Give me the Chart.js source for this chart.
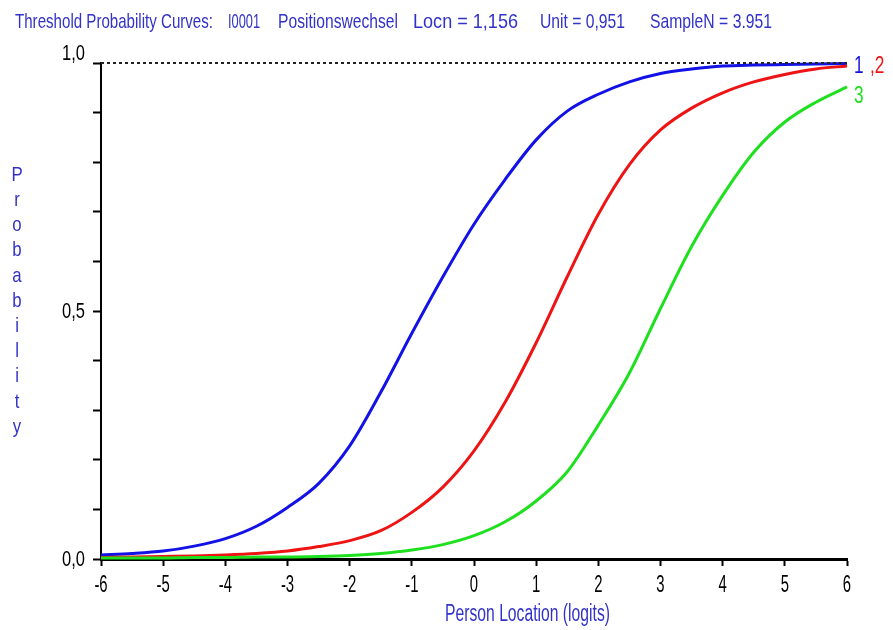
<!DOCTYPE html>
<html>
<head>
<meta charset="utf-8">
<script src="https://cdn.jsdelivr.net/npm/chart.js@4"></script>
<style>
    body { margin: 0; background: #fff; }
    #wrap { width: 893px; height: 630px; }
</style>
</head>
<body>
<div id="wrap"><canvas id="thresholdChart" width="893" height="630"></canvas></div>
<script>
// Person locations (logits) where the curves were read
const locations = [-6, -5.5, -5, -4.5, -4, -3.5, -3, -2.5, -2, -1.5, -1, -0.5, 0, 0.5, 1, 1.5, 2, 2.5, 3, 3.5, 4, 4.5, 5, 5.5, 6];

// Threshold probability curves
const curve1 = [0.008, 0.011, 0.016, 0.026, 0.041, 0.066, 0.104, 0.152, 0.228, 0.336, 0.455, 0.569, 0.675, 0.765, 0.845, 0.903, 0.937, 0.962, 0.979, 0.988, 0.994, 0.996, 0.997, 0.998, 0.999];
const curve2 = [0.003, 0.004, 0.005, 0.006, 0.008, 0.011, 0.016, 0.025, 0.037, 0.057, 0.094, 0.145, 0.218, 0.316, 0.436, 0.569, 0.695, 0.795, 0.865, 0.909, 0.940, 0.962, 0.977, 0.988, 0.994];
const curve3 = [0.002, 0.002, 0.002, 0.003, 0.003, 0.004, 0.004, 0.005, 0.007, 0.011, 0.018, 0.029, 0.047, 0.075, 0.117, 0.176, 0.270, 0.375, 0.505, 0.630, 0.733, 0.820, 0.881, 0.921, 0.952];

// Axis ranges and tick labels
const xRange = [-6, 6];
const yRange = [0, 1];
const yTickLabels = { '0': '0,0', '0.5': '0,5', '1': '1,0' };

// Header text pieces
const titleParts = ['Threshold Probability Curves:', 'I0001', 'Positionswechsel', 'Locn = 1,156', 'Unit = 0,951', 'SampleN = 3.951'];
const xTitle = 'Person Location (logits)';
const yTitle = 'Probability';
const curveNames = ['1', ',2', '3'];

const FONT = "'Liberation Sans', Arial, sans-serif";
const BLUE_TEXT = '#3232c8';
const colors = ['#1212e6', '#ee1414', '#1ee01e'];

function toPoints(values) {
    return values.map((v, i) => ({ x: locations[i], y: v }));
}

// draws text squeezed or stretched into a given width
function fitText(ctx, text, x, y, width) {
    const w = ctx.measureText(text).width;
    ctx.save();
    ctx.translate(x, y);
    ctx.scale(width / w, 1);
    ctx.fillText(text, 0, 0);
    ctx.restore();
}

// draws text with a fixed horizontal squeeze (narrow look)
function narrowText(ctx, text, x, y, sx) {
    ctx.save();
    ctx.translate(x, y);
    ctx.scale(sx, 1);
    ctx.fillText(text, 0, 0);
    ctx.restore();
}

const textPlugin = {
    id: 'rummTexts',
    afterDraw(chart) {
        const ctx = chart.ctx;
        const xs = chart.scales.x;
        const ys = chart.scales.y;
        ctx.save();

        // header line
        ctx.fillStyle = BLUE_TEXT;
        ctx.font = '21px ' + FONT;
        ctx.textBaseline = 'alphabetic';
        const spans = [[15, 213], [228, 260], [278, 398], [413, 518], [540, 625], [650, 772]];
        titleParts.forEach((t, i) => fitText(ctx, t, spans[i][0], 28, spans[i][1] - spans[i][0]));

        // x axis title
        ctx.font = '23px ' + FONT;
        fitText(ctx, xTitle, 445, 621, 165);

        // y axis title, one letter per line
        ctx.font = '21px ' + FONT;
        ctx.textAlign = 'center';
        ctx.textBaseline = 'middle';
        yTitle.split('').forEach((ch, i) => {
            narrowText(ctx, ch, 17, 175 + i * 25.2, 0.8);
        });

        // tick labels, placed through the scales
        ctx.fillStyle = '#000';
        ctx.font = '24px ' + FONT;
        ctx.textAlign = 'center';
        ctx.textBaseline = 'alphabetic';
        xs.ticks.forEach(t => {
            narrowText(ctx, String(t.value), xs.getPixelForValue(t.value), 592, 0.62);
        });
        ctx.font = '22px ' + FONT;
        ctx.textAlign = 'right';
        ctx.textBaseline = 'middle';
        ys.ticks.forEach(t => {
            const key = String(Math.round(t.value * 10) / 10);
            if (!yTickLabels[key]) return;
            const lift = key === '1' ? -9 : 1;
            narrowText(ctx, yTickLabels[key], 85, ys.getPixelForValue(t.value) + lift, 0.75);
        });

        // curve numbers at the right end
        ctx.font = '23px ' + FONT;
        ctx.textAlign = 'left';
        ctx.textBaseline = 'middle';
        const xEnd = xs.getPixelForValue(xRange[1]);
        const ends = [curve1, curve2, curve3].map(c => ys.getPixelForValue(c[c.length - 1]));
        ctx.fillStyle = colors[0];
        narrowText(ctx, curveNames[0], xEnd + 7, ends[0] + 3, 0.75);
        ctx.fillStyle = colors[1];
        narrowText(ctx, curveNames[1], xEnd + 23, ends[0] + 3, 0.75);
        ctx.fillStyle = colors[2];
        narrowText(ctx, curveNames[2], xEnd + 7, ends[2] + 10, 0.75);

        ctx.restore();
    }
};

function initThresholdChart() {
    const ctx = document.getElementById('thresholdChart').getContext('2d');

    const makeCurve = (values, color) => ({
        data: toPoints(values),
        borderColor: color,
        borderWidth: 3,
        pointRadius: 0,
        cubicInterpolationMode: 'monotone',
        clip: false,
        fill: false
    });

    new Chart(ctx, {
        type: 'line',
        data: {
            datasets: [
                {
                    // dotted reference line at probability 1
                    data: [{ x: xRange[0], y: yRange[1] }, { x: xRange[1], y: yRange[1] }],
                    borderColor: '#222',
                    borderWidth: 2,
                    borderDash: [3, 3],
                    pointRadius: 0,
                    clip: false
                },
                makeCurve(curve3, colors[2]),
                makeCurve(curve2, colors[1]),
                makeCurve(curve1, colors[0])
            ]
        },
        options: {
            responsive: false,
            animation: false,
            layout: { padding: { top: 63, right: 46, left: 0, bottom: 0 } },
            plugins: {
                legend: { display: false },
                tooltip: { enabled: false }
            },
            scales: {
                x: {
                    type: 'linear',
                    min: xRange[0],
                    max: xRange[1],
                    afterFit: scale => { scale.height = 71; },
                    border: { color: '#000', width: 3 },
                    grid: {
                        drawOnChartArea: false,
                        drawTicks: true,
                        tickLength: 7,
                        tickColor: '#000',
                        tickWidth: 2
                    },
                    ticks: {
                        stepSize: 1,
                        display: false
                    }
                },
                y: {
                    min: yRange[0],
                    max: yRange[1],
                    afterFit: scale => { scale.width = 101; },
                    border: { color: '#000', width: 2 },
                    grid: {
                        drawOnChartArea: false,
                        drawTicks: true,
                        tickLength: 8,
                        tickColor: '#000',
                        tickWidth: 2
                    },
                    ticks: {
                        stepSize: 0.1,
                        autoSkip: false,
                        display: false
                    }
                }
            }
        },
        plugins: [textPlugin]
    });
}

document.addEventListener('DOMContentLoaded', initThresholdChart);
</script>
</body>
</html>
